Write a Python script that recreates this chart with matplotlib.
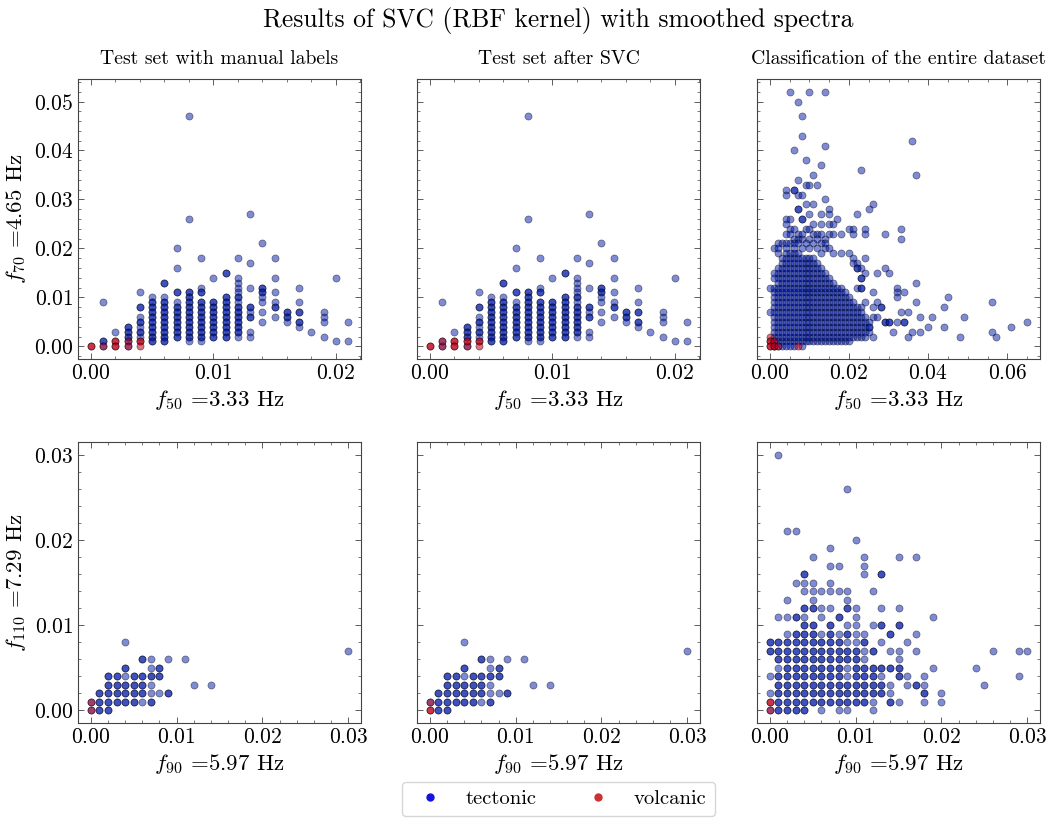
import numpy as np
import matplotlib.pyplot as plt
from matplotlib.lines import Line2D
from matplotlib.ticker import AutoMinorLocator, MultipleLocator

# Computer Modern look (no LaTeX available)
plt.rcParams['font.family'] = 'serif'
plt.rcParams['font.serif'] = ['cmr10']
plt.rcParams['mathtext.fontset'] = 'cm'
plt.rcParams['axes.formatter.use_mathtext'] = True
plt.rcParams['axes.unicode_minus'] = False

# All values below in units of 1e-3
UNIT = 1e-3

# ---- test set, f50 vs f70 (tectonic columns as in the manual labels) ----
test_t_f50 = [1, 2, 3, 4, 5, 6, 7, 8, 9, 10, 11, 12, 13, 14, 15, 16, 17, 18, 19, 20, 21]
test_t_f70 = [
    [9, 1, 0],
    [3],
    [4, 3, 2, 1, 0],
    [11, 8, 6, 5, 4, 3, 2],
    [10, 9, 8, 7, 6, 5, 4, 3, 2, 1],
    [13, 10, 9, 8, 7, 6, 5, 4, 3, 2, 1],
    [20, 16, 11, 9, 8, 7, 6, 5, 4, 3, 2],
    [47, 26, 11, 10, 9, 8, 7, 6, 5, 4, 3, 2, 1],
    [18, 12, 11, 9, 8, 7, 6, 5, 4, 3, 2, 1],
    [14, 9, 8, 7, 6, 5, 4, 3, 2],
    [15, 10, 9, 8, 7, 6, 5, 4, 3, 2],
    [18, 14, 13, 12, 11, 10, 9, 8, 7, 6, 5, 4, 3, 2],
    [27, 17, 12, 8, 7, 6, 3, 2],
    [21, 12, 11, 10, 9, 7, 5],
    [18, 14, 11, 9, 8, 6],
    [7, 6, 5],
    [12, 9, 7, 5, 4],
    [3],
    [7, 6, 5, 2],
    [14, 1],
    [5, 1],
]
# number of events stacked on each grid cell (darker dots)
test_t_n = [
    [1, 2, 1],
    [1],
    [2, 2, 2, 1, 1],
    [1, 2, 1, 2, 1, 2, 1],
    [1, 2, 2, 2, 2, 2, 2, 2, 2, 2],
    [2, 1, 2, 2, 2, 2, 2, 2, 2, 2, 2],
    [1, 1, 2, 1, 2, 2, 2, 2, 2, 2, 2],
    [1, 1, 2, 2, 2, 2, 2, 2, 2, 2, 2, 2, 1],
    [1, 1, 2, 2, 2, 2, 2, 2, 2, 2, 2, 1],
    [1, 2, 2, 2, 2, 2, 2, 2, 2],
    [2, 2, 2, 2, 2, 2, 2, 2, 2, 2],
    [1, 1, 1, 1, 1, 2, 1, 2, 2, 2, 2, 2, 2, 1],
    [1, 1, 1, 2, 1, 2, 1, 1],
    [1, 2, 2, 1, 1, 1, 1],
    [1, 1, 1, 1, 2, 1],
    [2, 2, 1],
    [1, 1, 2, 2, 1],
    [1],
    [1, 1, 1, 1],
    [1, 1],
    [1, 1],
]
test_v_f50 = [0, 1, 2, 2, 3, 3, 4, 4]
test_v_f70 = [0, 0, 1, 0, 1, 0, 1, 0]
test_v_n = [2, 1, 2, 2, 1, 1, 2, 1]
# tectonic events that the SVC labels volcanic
test_flip_f50 = [1, 3]
test_flip_f70 = [1, 1]

# ---- test set, f90 vs f110 ----
testb_t_f90 = [0, 1, 2, 3, 4, 5, 6, 7, 8, 9, 11, 12, 14, 30]
testb_t_f110 = [
    [1, 0],
    [2, 1, 0],
    [4, 3, 2, 1, 0],
    [4, 3, 2, 1],
    [8, 5, 4, 3, 2, 1],
    [4, 3, 2, 1],
    [6, 4, 3, 2, 1],
    [6, 5, 4, 3, 2, 1],
    [5, 4, 2],
    [6, 2],
    [6], [3], [3], [7],
]
testb_t_n = [
    [1, 1],
    [2, 2, 2],
    [2, 2, 2, 2, 2],
    [2, 2, 2, 2],
    [1, 2, 1, 2, 2, 2],
    [2, 2, 2, 2],
    [2, 2, 2, 2, 1],
    [1, 1, 2, 1, 1, 2],
    [2, 2, 1],
    [1, 2],
    [1], [1], [1], [1],
]
testb_v_f90 = [0, 0]
testb_v_f110 = [1, 0]
testb_v_n = [1, 1]
testb_flip_f90 = [0]
testb_flip_f110 = [0]

# ---- entire dataset, f50 vs f70 ----
# dense core: every cell of each column is occupied
all_core_f50 = [1, 2, 3, 4, 5, 6, 7, 8, 9, 10, 11, 12, 13, 14, 15, 16, 17, 18, 19, 20, 21, 22, 23, 24, 25]
all_core_f70 = [
    [1, 2, 3, 4, 5, 6, 7, 8, 9, 10, 11, 12],
    [1, 2, 3, 4, 5, 6, 7, 8, 9, 10, 11, 12, 13, 14, 15, 16],
    [1, 2, 3, 4, 5, 6, 7, 8, 9, 10, 11, 12, 13, 14, 15, 16, 17, 18],
    [1, 2, 3, 4, 5, 6, 7, 8, 9, 10, 11, 12, 13, 14, 15, 16, 17, 18, 19],
    [1, 2, 3, 4, 5, 6, 7, 8, 9, 10, 11, 12, 13, 14, 15, 16, 17, 18],
    [1, 2, 3, 4, 5, 6, 7, 8, 9, 10, 11, 12, 13, 14, 15, 16, 17, 18, 19],
    [1, 2, 3, 4, 5, 6, 7, 8, 9, 10, 11, 12, 13, 14, 15, 16, 17, 18, 19],
    [1, 2, 3, 4, 5, 6, 7, 8, 9, 10, 11, 12, 13, 14, 15, 16, 17, 18],
    [1, 2, 3, 4, 5, 6, 7, 8, 9, 10, 11, 12, 13, 14, 15, 16, 17, 18],
    [1, 2, 3, 4, 5, 6, 7, 8, 9, 10, 11, 12, 13, 14, 15, 16, 17, 18],
    [1, 2, 3, 4, 5, 6, 7, 8, 9, 10, 11, 12, 13, 14, 15, 16, 17, 18],
    [1, 2, 3, 4, 5, 6, 7, 8, 9, 10, 11, 12, 13, 14, 15, 16, 17],
    [1, 2, 3, 4, 5, 6, 7, 8, 9, 10, 11, 12, 13, 14, 15, 16],
    [1, 2, 3, 4, 5, 6, 7, 8, 9, 10, 11, 12, 13, 14, 15],
    [1, 2, 3, 4, 5, 6, 7, 8, 9, 10, 11, 12, 13, 14],
    [1, 2, 3, 4, 5, 6, 7, 8, 9, 10, 11, 12, 13],
    [1, 2, 3, 4, 5, 6, 7, 8, 9, 10, 11, 12],
    [1, 2, 3, 4, 5, 6, 7, 8, 9, 10, 11, 12],
    [1, 2, 3, 4, 5, 6, 7, 8, 9, 10, 11],
    [1, 2, 3, 4, 5, 6, 7, 8, 9, 10],
    [2, 3, 4, 5, 6, 7, 8, 9],
    [2, 3, 4, 5, 6, 7, 8],
    [2, 3, 4, 5, 6, 7, 8],
    [2, 3, 4, 5, 6],
    [3, 4, 5],
]
all_core_n = [1] * 25
# scattered tectonic events around the core (repeats = darker dots)
all_out_f50 = [
    5, 10, 14, 7, 8, 8, 14, 36, 6, 9, 13, 23, 37, 11, 7,
    9, 10, 12, 4, 6, 6, 4, 7, 8, 14, 9, 11, 26,
    7, 7, 15, 25, 15, 22, 10, 13,
    4, 5, 8, 8, 17, 4, 11, 13, 15, 16,
    5, 6, 9, 10, 20, 21, 24, 33,
    4, 5, 7, 8, 11, 12, 13, 15, 16, 18, 21, 24, 29,
    6, 7, 8, 10, 12, 14, 33,
    2, 3, 4, 5, 6, 7, 9, 11, 13, 14,
    1, 2, 4, 6, 8, 10, 12, 14, 15,
    2, 5, 13, 16, 18, 20,
    21, 24, 21, 22, 22, 22, 23, 24, 27, 29, 30, 1, 1,
    23, 23, 37, 0, 22, 23, 23, 32, 32, 34, 26, 32, 45,
    56, 37, 27, 28, 28, 24, 26, 44, 33, 35, 0, 26, 27, 38, 41, 49,
    29, 29, 30, 30, 32, 34, 34, 65, 25, 40, 44, 61,
    31, 36, 38, 56, 26, 35, 48, 57,
    1, 2, 3, 4, 5, 6, 8,
]
all_out_f70 = [
    52, 52, 52, 50, 47, 43, 41, 42, 40, 38, 37, 36, 35, 35, 34,
    33, 33, 33, 32, 32, 32, 31, 31, 31, 30, 29, 29, 29,
    28, 28, 28, 28, 27, 27, 27, 27,
    26, 26, 26, 26, 26, 25, 25, 25, 25, 25,
    24, 24, 24, 24, 24, 24, 24, 24,
    23, 23, 23, 23, 23, 23, 23, 23, 23, 23, 23, 23, 23,
    22, 22, 22, 22, 22, 22, 22,
    21, 21, 21, 21, 21, 21, 21, 21, 21, 21,
    20, 20, 20, 20, 20, 20, 20, 20, 20,
    19, 19, 19, 19, 19, 19,
    18, 18, 17, 17, 16, 16, 16, 15, 15, 16, 15, 15, 14,
    14, 14, 13, 12, 12, 12, 12, 12, 11, 11, 11, 10, 10,
    9, 9, 9, 8, 8, 9, 8, 8, 7, 7, 7, 6, 6, 6, 6, 6,
    5, 5, 5, 5, 5, 5, 5, 5, 4, 4, 4, 4,
    3, 3, 3, 3, 2, 2, 2, 2,
    0, 0, 0, 0, 0, 0, 0,
]
all_v_f50 = [0, 0, 1, 0, 1, 2, 7]
all_v_f70 = [2, 1, 1, 0, 0, 0, 0]
all_v_n = [1, 2, 1, 2, 2, 1, 1]

# ---- entire dataset, f90 vs f110 (rows of f110, tectonic) ----
allb_f110 = [30, 26, 21, 20, 19, 18, 17, 16, 15, 14, 13, 12, 11, 10, 9, 8, 7, 6, 5, 4, 3, 2, 1, 0]
allb_f90 = [
    [1],
    [9],
    [2, 3],
    [10],
    [7],
    [5, 11, 15, 17],
    [7, 8, 11],
    [4, 11, 13],
    [3, 4, 5, 7],
    [4, 5, 6, 7, 8, 9, 12],
    [2, 5, 9],
    [4, 5, 6, 7, 9, 10, 13, 15],
    [1, 2, 3, 4, 6, 8, 10, 19],
    [4, 5, 7, 9, 10, 12, 13, 15],
    [2, 3, 4, 5, 6, 7, 8, 9, 10, 11, 14, 17],
    [0, 1, 2, 3, 4, 5, 6, 7, 8, 9, 10, 11, 13, 16],
    [0, 1, 2, 3, 4, 5, 6, 7, 8, 9, 10, 11, 12, 14, 15, 17, 26, 29, 30],
    [1, 2, 3, 4, 5, 6, 7, 8, 9, 10, 11, 15],
    [1, 2, 3, 4, 5, 6, 7, 8, 9, 10, 11, 12, 13, 14, 15, 19, 24],
    [0, 1, 2, 3, 4, 5, 6, 7, 8, 9, 10, 11, 12, 13, 15, 16, 18, 29],
    [1, 2, 3, 4, 5, 6, 7, 8, 9, 10, 11, 12, 13, 14, 16, 17, 18, 25],
    [0, 1, 2, 3, 4, 5, 6, 7, 8, 9, 10, 11, 12, 13, 14, 18, 20],
    [1, 2, 3, 4, 5, 6, 7, 8, 9, 10, 11, 12, 14, 15, 18, 20],
    [0, 1, 2, 3, 4, 6, 8, 9, 12],
]
allb_n = [
    [1],
    [1],
    [1, 1],
    [1],
    [1],
    [1, 1, 1, 1],
    [1, 1, 1],
    [2, 1, 2],
    [1, 1, 1, 1],
    [1, 1, 1, 1, 1, 1, 1],
    [1, 1, 1],
    [2, 2, 1, 1, 2, 1, 1, 1],
    [1, 1, 2, 1, 1, 2, 1, 1],
    [2, 2, 2, 1, 1, 1, 2, 2],
    [1, 2, 2, 2, 1, 2, 1, 2, 1, 1, 2, 1],
    [2, 2, 2, 2, 2, 2, 2, 2, 2, 1, 1, 2, 1, 1],
    [2, 2, 2, 2, 2, 2, 2, 2, 2, 2, 2, 1, 2, 1, 1, 1, 1, 1, 1],
    [2, 2, 2, 2, 2, 2, 2, 2, 2, 2, 1, 1],
    [1, 2, 2, 2, 2, 2, 2, 2, 1, 2, 2, 2, 2, 2, 2, 1, 1],
    [1, 2, 2, 2, 2, 2, 2, 2, 2, 1, 2, 2, 2, 1, 2, 1, 1, 1],
    [2, 2, 2, 2, 2, 2, 2, 2, 2, 2, 2, 2, 2, 1, 1, 2, 1, 1],
    [1, 2, 2, 2, 2, 2, 2, 2, 2, 2, 2, 2, 2, 2, 1, 2, 1],
    [2, 2, 2, 2, 2, 2, 2, 2, 2, 2, 2, 1, 2, 1, 1, 1],
    [1, 2, 2, 2, 2, 1, 1, 1, 1],
]
allb_v_f90 = [0, 0]
allb_v_f110 = [1, 0]
allb_v_n = [2, 1]

TECT = '#0019aa'
VOLC = '#c0001a'


def columns(xs, ys, ns):
    pts = []
    for x, col, cn in zip(xs, ys, ns):
        for y, n in zip(col, cn):
            pts += [(x, y)] * n
    return pts


def rows(ys, xs, ns):
    pts = []
    for y, row, rn in zip(ys, xs, ns):
        for x, n in zip(row, rn):
            pts += [(x, y)] * n
    return pts


def flat(xs, ys, ns=None):
    if ns is None:
        ns = [1] * len(xs)
    pts = []
    for x, y, n in zip(xs, ys, ns):
        pts += [(x, y)] * n
    return pts


def flip(tect, volc, fx, fy):
    tect = list(tect)
    volc = list(volc)
    for p in zip(fx, fy):
        tect.remove(p)
        volc.append(p)
    return tect, volc


def draw(ax, tect, volc):
    for pts, col, a in ((tect, TECT, 0.5), (volc, VOLC, 0.55)):
        p = np.array(pts, dtype=float) * UNIT
        ax.scatter(p[:, 0], p[:, 1], s=26, color=col, alpha=a,
                   edgecolors='black', linewidths=0.5, zorder=3)


t1 = columns(test_t_f50, test_t_f70, test_t_n)
v1 = flat(test_v_f50, test_v_f70, test_v_n)
t2, v2 = flip(t1, v1, test_flip_f50, test_flip_f70)
t3 = columns(all_core_f50, all_core_f70,
             [[n] * len(c) for n, c in zip(all_core_n, all_core_f70)])
t3 += flat(all_out_f50, all_out_f70)
v3 = flat(all_v_f50, all_v_f70, all_v_n)
t4 = columns(testb_t_f90, testb_t_f110, testb_t_n)
v4 = flat(testb_v_f90, testb_v_f110, testb_v_n)
t5, v5 = flip(t4, v4, testb_flip_f90, testb_flip_f110)
t6 = rows(allb_f110, allb_f90, allb_n)
v6 = flat(allb_v_f90, allb_v_f110, allb_v_n)

fig = plt.figure(figsize=(10.51, 8.18), dpi=100)
lefts = [0.0742, 0.3968, 0.7203]
W = 0.2693
axes = []
for r, (bot, h) in enumerate([(0.5611, 0.3423), (0.1161, 0.3435)]):
    row = []
    for c, l in enumerate(lefts):
        ax = fig.add_axes([l, bot, W, h], sharey=row[0] if row else None)
        row.append(ax)
    axes.append(row)

data = [[(t1, v1), (t2, v2), (t3, v3)], [(t4, v4), (t5, v5), (t6, v6)]]
titles = ['Test set with manual labels', 'Test set after SVC',
          'Classification of the entire dataset']
xlabels = [r'$f_{50}$ =3.33 Hz', r'$f_{90}$ =5.97 Hz']
ylabels = [r'$f_{70}$ =4.65 Hz', r'$f_{110}$ =7.29 Hz']
xsteps = [[0.01, 0.01, 0.02], [0.01, 0.01, 0.01]]
ysteps = [0.01, 0.01]

for r in range(2):
    for c in range(3):
        ax = axes[r][c]
        draw(ax, *data[r][c])
        ax.xaxis.set_major_locator(MultipleLocator(xsteps[r][c]))
        ax.yaxis.set_major_locator(MultipleLocator(ysteps[r]))
        ax.xaxis.set_minor_locator(AutoMinorLocator())
        ax.yaxis.set_minor_locator(AutoMinorLocator())
        ax.set_xlabel(xlabels[r], fontsize=16.5, labelpad=3)
        if c == 0:
            ax.set_ylabel(ylabels[r], fontsize=16.5, labelpad=4)
        else:
            ax.tick_params(labelleft=False)
        if r == 0:
            ax.set_title(titles[c], fontsize=14.2, pad=11)
        ax.tick_params(which='both', direction='in', top=True, right=True,
                       labelsize=15.5, color='#444444')
        ax.tick_params(which='major', length=4, width=0.6)
        ax.tick_params(which='minor', length=2, width=0.5)
        for s in ax.spines.values():
            s.set_color('#444444')
            s.set_linewidth(0.8)

fig.text(0.531, 0.975, 'Results of SVC (RBF kernel) with smoothed spectra',
         ha='center', va='center', fontsize=18.4)

handles = [Line2D([], [], ls='none', marker='o', markersize=5, color='#1414dc'),
           Line2D([], [], ls='none', marker='o', markersize=5, color='#c83232')]
fig.legend(handles, ['tectonic', 'volcanic'], loc='lower center',
           bbox_to_anchor=(0.531, 0.002), borderaxespad=0.0, ncol=2,
           fontsize=14.8, handlelength=2.0, handletextpad=0.72,
           columnspacing=2.0, fancybox=True, edgecolor='#cccccc')

fig.savefig('out.png', dpi=100)
